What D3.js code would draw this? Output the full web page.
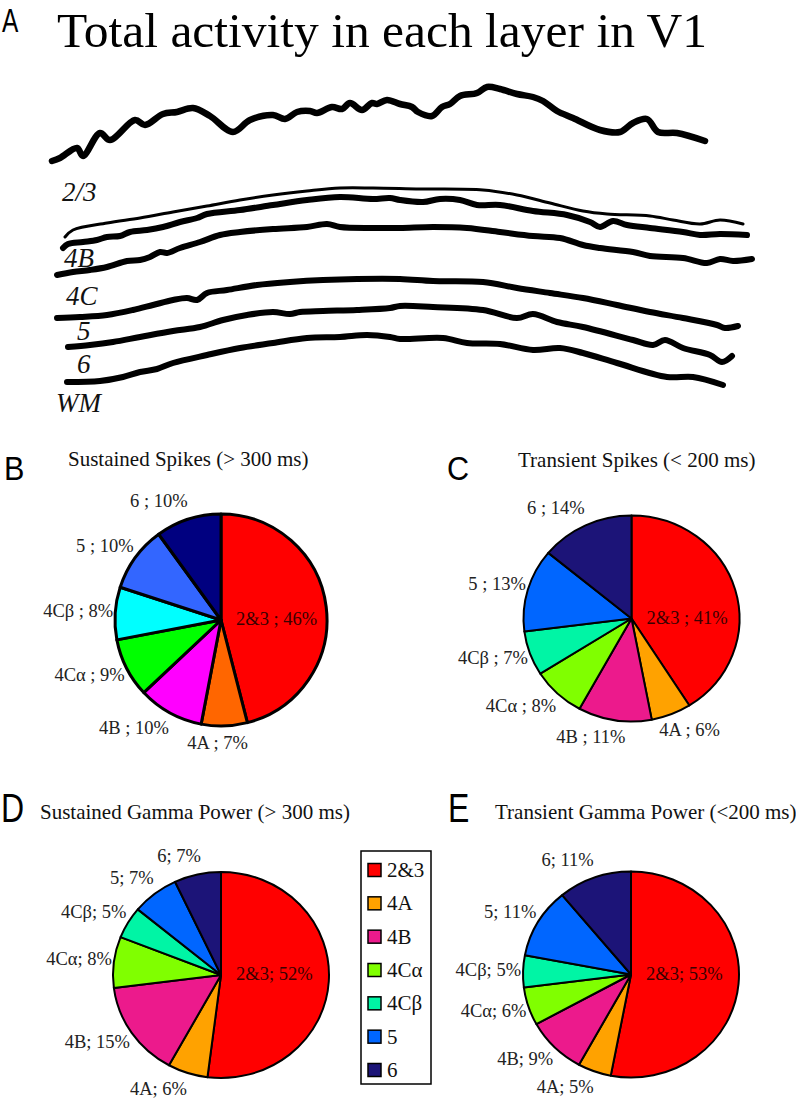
<!DOCTYPE html>
<html><head><meta charset="utf-8">
<script src="https://cdn.jsdelivr.net/npm/d3@7"></script>
<style>html,body{margin:0;padding:0;background:#fff}svg{display:block}</style>
</head><body>
<script>
// ---------- DATA ----------
const layerNames = ["2&3", "4A", "4B", "4Cα", "4Cβ", "5", "6"];
const sustainedSpikes = [46, 7, 10, 9, 8, 10, 10];
const transientSpikes = [41, 6, 11, 8, 7, 13, 14];
const sustainedGamma  = [52, 6, 15, 8, 5, 7, 7];
const transientGamma  = [53, 5, 9, 6, 5, 11, 11];
const colorsSpikesB = ["#ff0000", "#ff6600", "#ff00ff", "#00ff00", "#00ffff", "#3366ff", "#000080"];
const colorsOther   = ["#ff0000", "#ffa200", "#ec1a8c", "#80ff00", "#00f5a5", "#0066ff", "#1c1478"];
const boundaryLabels = ["2/3", "4B", "4C", "5", "6", "WM"];

// Panel A traces: [time, level]
const totalActivity = [[12,259],[20,262],[37,272],[43,264],[60,287],[70,280],[95,300],[105,295],[123,306],[137,308],[153,312],[170,304],[193,288],[210,300],[233,305],[245,301],[257,308],[270,309],[277,307],[292,313],[302,311],[310,317],[322,310],[332,317],[337,316],[347,320],[360,316],[372,313],[378,308],[392,304],[402,313],[410,316],[420,324],[437,327],[447,333],[460,331],[477,326],[493,323],[503,319],[517,309],[533,302],[560,290],[580,288],[593,297],[607,301],[618,288],[637,287],[665,279]];
const boundary23 = [[25,183],[33,190],[67,197],[100,202],[133,208],[167,214],[200,220],[233,225],[267,229],[300,232],[333,232],[380,231],[443,230],[477,225],[510,217],[543,209],[567,206],[610,204],[633,200],[660,196],[680,200],[703,196]];
const boundary4B = [[23,172],[28,176],[43,178],[57,180],[67,183],[80,184],[90,188],[107,190],[123,193],[140,198],[157,202],[167,206],[200,210],[233,215],[267,220],[300,223],[333,221],[350,222],[360,220],[383,218],[400,221],[420,220],[437,215],[460,215],[493,209],[527,205],[550,198],[560,193],[573,199],[587,195],[610,192],[643,188],[660,185],[680,186],[707,185]];
const boundary4C = [[17,145],[33,148],[50,150],[67,153],[87,159],[100,160],[110,163],[120,168],[127,167],[140,172],[160,178],[180,185],[200,188],[233,191],[267,193],[287,196],[300,193],[333,192],[360,192],[393,193],[427,192],[460,188],[493,184],[520,182],[543,175],[560,172],[593,168],[610,164],[643,162],[667,157],[680,161],[693,159],[712,161]];
const boundary5 = [[17,102],[40,103],[67,105],[93,110],[113,115],[133,120],[147,122],[157,120],[167,127],[187,130],[217,135],[250,138],[283,140],[317,141],[360,141],[393,139],[443,138],[477,132],[510,127],[543,122],[577,115],[610,108],[643,102],[677,95],[685,92],[698,94]];
const boundary6 = [[28,73],[50,75],[73,78],[100,83],[133,89],[160,93],[183,100],[207,105],[233,108],[250,106],[260,108],[283,109],[317,110],[350,112],[360,114],[393,113],[443,110],[477,102],[493,106],[517,98],[543,93],[593,80],[613,75],[625,80],[643,72],[670,65],[682,58],[692,64]];
const boundaryWM = [[27,38],[60,39],[83,43],[100,48],[117,51],[133,57],[167,65],[200,72],[233,77],[267,82],[300,83],[327,85],[350,83],[360,81],[403,82],[427,77],[460,76],[493,70],[520,72],[543,67],[577,57],[627,43],[653,43],[683,35]];

// ---------- DRAW ----------
const W = 796, H = 1104;
const serif = "'Liberation Serif','Times New Roman',serif";
const sans = "'Liberation Sans',Arial,sans-serif";
const svg = d3.select("body").append("svg").attr("width", W).attr("height", H);

// Panel letters
function letter(txt, x, y, size, sx) {
  svg.append("text").attr("transform", `translate(${x},${y}) scale(${sx},1)`)
    .attr("font-family", sans).attr("font-size", size).attr("fill", "#000").text(txt);
}
letter("A", 2, 32, 34, 0.72);
letter("B", 4, 480, 34, 0.9);
letter("C", 447, 480, 34, 0.9);
letter("D", 1, 822, 40, 0.8);
letter("E", 448, 822, 40, 0.8);

// Panel A
svg.append("text").attr("x", 57).attr("y", 47).attr("font-family", serif)
  .attr("font-size", 49.5).attr("fill", "#000").text("Total activity in each layer in V1");

const x = d3.scaleLinear().domain([0, 720]).range([40, 760]);
const y = d3.scaleLinear().domain([0, 330]).range([420, 90]);
const line = d3.line().x(d => x(d[0])).y(d => y(d[1])).curve(d3.curveCatmullRom.alpha(0.5));
const traces = [
  {d: totalActivity, w: 6.5},
  {d: boundary23, w: 3},
  {d: boundary4B, w: 6},
  {d: boundary4C, w: 6},
  {d: boundary5, w: 6},
  {d: boundary6, w: 6},
  {d: boundaryWM, w: 6}
];
svg.append("g").selectAll("path").data(traces).join("path")
  .attr("d", t => line(t.d)).attr("fill", "none").attr("stroke", "#000")
  .attr("stroke-width", t => t.w).attr("stroke-linecap", "round").attr("stroke-linejoin", "round");

const layerLabelPos = [[62, 201], [64, 267], [66, 305], [77, 340], [77, 373], [56, 412]];
svg.append("g").selectAll("text").data(boundaryLabels).join("text")
  .attr("x", (d, i) => layerLabelPos[i][0]).attr("y", (d, i) => layerLabelPos[i][1])
  .attr("font-family", serif).attr("font-style", "italic").attr("font-size", 27)
  .attr("fill", "#111").text(d => d);

// Pies
const pies = [
  {title: "Sustained Spikes (> 300 ms)", tx: 68, ty: 466, cx: 221, cy: 620, rx: 106, ry: 106, values: sustainedSpikes, colors: colorsSpikesB, sep: " ; ", sw: 3},
  {title: "Transient Spikes (< 200 ms)", tx: 518, ty: 467, cx: 631.5, cy: 618.5, rx: 108, ry: 103, values: transientSpikes, colors: colorsOther, sep: " ; ", sw: 2},
  {title: "Sustained Gamma Power (> 300 ms)", tx: 40, ty: 819, cx: 221, cy: 975, rx: 108, ry: 103, values: sustainedGamma, colors: colorsOther, sep: "; ", sw: 2},
  {title: "Transient Gamma Power (<200 ms)", tx: 495, ty: 819, cx: 631, cy: 974.5, rx: 108, ry: 103, values: transientGamma, colors: colorsOther, sep: "; ", sw: 2}
];

pies.forEach(p => {
  svg.append("text").attr("x", p.tx).attr("y", p.ty).attr("font-family", serif)
    .attr("font-size", 21).attr("fill", "#111").text(p.title);
  const arcs = d3.pie().sort(null).value(d => d)(p.values);
  const arc = d3.arc().innerRadius(0).outerRadius(p.rx);
  const g = svg.append("g").attr("transform", `translate(${p.cx},${p.cy}) scale(1,${p.ry / p.rx})`);
  g.selectAll("path").data(arcs).join("path")
    .attr("d", arc).attr("fill", (d, i) => p.colors[i])
    .attr("stroke", "#000").attr("stroke-width", p.sw)
    .attr("vector-effect", "non-scaling-stroke").attr("stroke-linejoin", "round");

  arcs.forEach((a, i) => {
    const label = layerNames[i] + p.sep + p.values[i] + "%";
    if (i === 0) {
      svg.append("text").attr("x", p.cx + 15).attr("y", p.cy + 5)
        .attr("font-family", serif).attr("font-size", 18.5).attr("fill", "#3a0000").text(label);
      return;
    }
    const th = (a.startAngle + a.endAngle) / 2;
    const s = Math.sin(th), c = Math.cos(th);
    const px = p.cx + s * (p.rx + 2), py = p.cy - c * (p.ry + 10);
    const t = svg.append("text").attr("font-family", serif).attr("font-size", 18.5)
      .attr("fill", "#222").text(label);
    const w = t.node().getComputedTextLength();
    const f = Math.max(0, Math.min(1, 0.65 - s * 1.2));
    t.attr("x", px - w * f).attr("y", py + 5 - 8 * c);
  });
});

// Legend
const lg = svg.append("g");
lg.append("rect").attr("x", 361).attr("y", 851).attr("width", 70).attr("height", 233)
  .attr("fill", "#fff").attr("stroke", "#000").attr("stroke-width", 1.5);
const ly = d3.scalePoint().domain(layerNames).range([870, 1070]);
const items = lg.selectAll("g.item").data(layerNames).join("g").attr("class", "item")
  .attr("transform", d => `translate(0,${ly(d)})`);
items.append("rect").attr("x", 368).attr("y", -6.5).attr("width", 13).attr("height", 13)
  .attr("fill", (d, i) => colorsOther[i]).attr("stroke", "#000").attr("stroke-width", 1.5);
items.append("text").attr("x", 387).attr("y", 7).attr("font-family", serif)
  .attr("font-size", 21).attr("fill", "#111").text(d => d);
</script>
</body></html>
